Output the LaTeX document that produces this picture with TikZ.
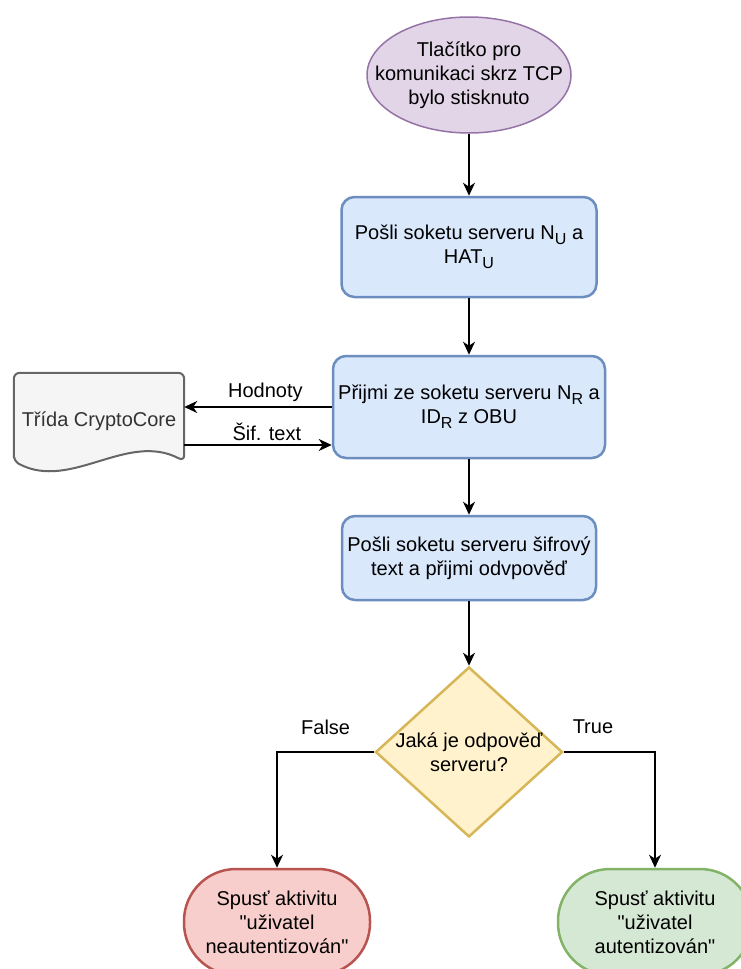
\documentclass[tikz,border=0pt]{standalone}
\usepackage{fontspec}
\setmainfont{Liberation Sans}
\usepackage{xcolor}
\usepackage{tikz}
\usetikzlibrary{positioning,shapes.geometric,arrows.meta,backgrounds}

\definecolor{purplefill}{HTML}{E1D5E7}
\definecolor{purpleline}{HTML}{9673A6}
\definecolor{bluefill}{HTML}{DAE8FC}
\definecolor{blueline}{HTML}{6C8EBF}
\definecolor{yellowfill}{HTML}{FFF2CC}
\definecolor{yellowline}{HTML}{D6B656}
\definecolor{redfill}{HTML}{F8CECC}
\definecolor{redline}{HTML}{B85450}
\definecolor{greenfill}{HTML}{D5E8D4}
\definecolor{greenline}{HTML}{82B366}
\definecolor{grayfill}{HTML}{F5F5F5}
\definecolor{grayline}{HTML}{666666}
\definecolor{graytext}{HTML}{333333}

\newcommand{\idx}[1]{\raisebox{-5pt}{\fontsize{16}{16}\selectfont #1}}

\begin{document}
\begin{tikzpicture}[x=1pt,y=-1pt,
  font=\fontsize{20}{24}\selectfont,
  every node/.style={align=center},
  lbl/.style={align=center},
  box/.style={draw=blueline,fill=bluefill,line width=2.5pt,rounded corners=13pt,inner sep=2pt},
  term/.style={line width=2.5pt,rounded corners=52pt,minimum width=186pt,minimum height=106pt,inner sep=0pt},
  flow/.style={line width=1.7pt,-{Stealth[length=13pt,width=12pt,inset=4pt]}}]
\useasboundingbox (0,0) rectangle (740,969);
\node[ellipse,draw=purpleline,fill=purplefill,line width=1.5pt,minimum width=204pt,minimum height=116pt,inner sep=0pt,
  label={[lbl]center:Tlačítko pro\\komunikaci skrz TCP\\bylo stisknuto}] (start) at (469,75) {};
\node[box,minimum width=255pt,minimum height=100pt] (send1) at (469,247) {Pošli soketu serveru N\idx{U} a\\HAT\idx{U}};
\node[box,minimum width=272pt,minimum height=102pt] (recv) at (469,407) {Přijmi ze soketu serveru N\idx{R} a\\ID\idx{R} z OBU};
\node[box,minimum width=254pt,minimum height=84pt] (send2) at (469,558) {Pošli soketu serveru šifrový\\text a přijmi odvpověď};
\node[diamond,draw=yellowline,fill=yellowfill,line width=2.5pt,minimum width=187pt,minimum height=170pt,inner sep=0pt,
  label={[lbl]center:Jaká je odpověď\\serveru?}] (decide) at (469,752) {};
\node[term,draw=redline,fill=redfill] (fail) at (277,922) {Spusť aktivitu\\\textquotedbl uživatel\\neautentizován\textquotedbl};
\node[term,draw=greenline,fill=greenfill,minimum width=194pt] (ok) at (655,922) {Spusť aktivitu\\\textquotedbl uživatel\\autentizován\textquotedbl};
\node[text=graytext,minimum width=170pt,minimum height=96pt,inner sep=0pt] (core) at (99,421) {Třída CryptoCore};
\begin{scope}[on background layer]
\draw[draw=grayline,fill=grayfill,line width=2pt,rounded corners=6pt]
  ([yshift=8pt]core.south west) -- (core.north west) -- (core.north east) -- ([yshift=8pt]core.south east)
  .. controls +(-57,-30) and +(57,30) .. ([yshift=8pt]core.south west) -- cycle;
\end{scope}
\draw[flow] (start) -- (send1);
\draw[flow] (send1) -- (recv);
\draw[flow] (recv) -- (send2);
\draw[flow] (send2) -- (decide);
\draw[flow] (decide.west) -| node[pos=0.25,yshift=25pt]{False} (fail.north);
\draw[flow] (decide.east) -| node[pos=0.16,yshift=25pt]{True} (ok.north);
\draw[flow] (recv.west) -- node[pos=0.45,yshift=15pt]{Hodnoty} (recv.west -| core.east);
\draw[flow] (core.east |- 0,445) -- node[pos=0.56,yshift=13pt]{Šif. text} (recv.west |- 0,445);
\end{tikzpicture}
\end{document}
